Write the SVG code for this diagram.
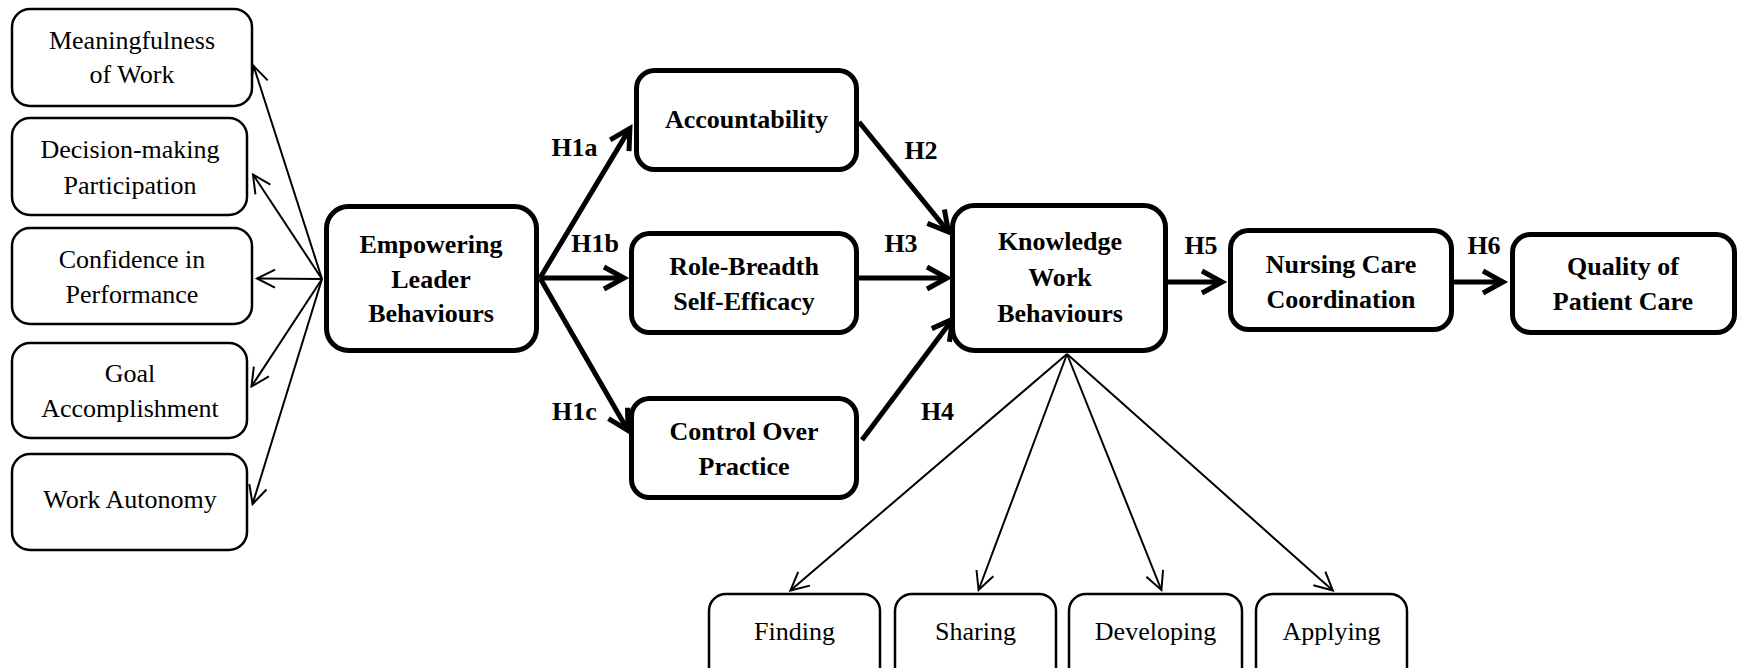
<svg xmlns="http://www.w3.org/2000/svg" width="1738" height="668" viewBox="0 0 1738 668">
<style>
.tn{fill:#fff;stroke:#000;stroke-width:2.5}
.tk{fill:#fff;stroke:#000;stroke-width:5}
.r{font-family:"Liberation Serif","Times New Roman",serif;font-size:26px;fill:#000;text-anchor:middle}
.b{font-family:"Liberation Serif","Times New Roman",serif;font-size:26px;font-weight:bold;fill:#000;text-anchor:middle}
.lt{fill:none;stroke:#000;stroke-width:2;marker-end:url(#at)}
.lk{fill:none;stroke:#000;stroke-width:5;marker-end:url(#ak)}
</style>
<defs>
<marker id="at" markerUnits="userSpaceOnUse" viewBox="-22 -12 26 24" refX="0" refY="0" markerWidth="26" markerHeight="24" orient="auto">
<path d="M-18,-9 L0,0 L-18,9" fill="none" stroke="#000" stroke-width="2"/>
</marker>
<marker id="ak" markerUnits="userSpaceOnUse" viewBox="-26 -16 34 32" refX="0" refY="0" markerWidth="34" markerHeight="32" orient="auto">
<path d="M-20,-11 L0,0 L-20,11" fill="none" stroke="#000" stroke-width="5"/>
</marker>
</defs>
<rect width="1738" height="668" fill="#fff"/>

<g id="connectors">
<line class="lt" x1="322" y1="279" x2="253.6" y2="66"/>
<line class="lt" x1="322" y1="279" x2="253" y2="174.5"/>
<line class="lt" x1="322" y1="279" x2="257" y2="278.5"/>
<line class="lt" x1="322" y1="279" x2="251.5" y2="386.5"/>
<line class="lt" x1="322" y1="279" x2="252.6" y2="504"/>
<line class="lk" x1="540" y1="278" x2="629.9" y2="128.4"/>
<line class="lk" x1="540" y1="278" x2="624" y2="278"/>
<line class="lk" x1="540" y1="278" x2="628" y2="430.5"/>
<line class="lk" x1="859" y1="122" x2="948.5" y2="231.9"/>
<line class="lk" x1="859" y1="278" x2="947" y2="278"/>
<line class="lk" x1="862" y1="440" x2="952.6" y2="319.2"/>
<line class="lk" x1="1168" y1="282" x2="1222" y2="282"/>
<line class="lk" x1="1454" y1="282" x2="1503" y2="282"/>
<line class="lt" x1="1067" y1="354" x2="790.4" y2="590.5"/>
<line class="lt" x1="1067" y1="354" x2="978.6" y2="590"/>
<line class="lt" x1="1067" y1="354" x2="1161.4" y2="590"/>
<line class="lt" x1="1067" y1="354" x2="1332.8" y2="590.4"/>
<text class="b" x="574.5" y="156">H1a</text>
<text class="b" x="595" y="252">H1b</text>
<text class="b" x="574.5" y="420">H1c</text>
<text class="b" x="921" y="159">H2</text>
<text class="b" x="901" y="252">H3</text>
<text class="b" x="937.5" y="420">H4</text>
<text class="b" x="1201" y="254">H5</text>
<text class="b" x="1484" y="254">H6</text>
</g>

<g id="meaningfulness">
<rect class="tn" x="12" y="9" width="240" height="97" rx="18"/>
<text class="r" x="132" y="49">Meaningfulness</text>
<text class="r" x="132" y="83">of Work</text>
</g>
<g id="decision">
<rect class="tn" x="12" y="118" width="235" height="97" rx="18"/>
<text class="r" x="130" y="158">Decision-making</text>
<text class="r" x="130" y="194">Participation</text>
</g>
<g id="confidence">
<rect class="tn" x="12" y="228" width="240" height="96" rx="18"/>
<text class="r" x="132" y="268">Confidence in</text>
<text class="r" x="132" y="303">Performance</text>
</g>
<g id="goal">
<rect class="tn" x="12" y="343" width="235" height="95" rx="18"/>
<text class="r" x="130" y="382">Goal</text>
<text class="r" x="130" y="417">Accomplishment</text>
</g>
<g id="autonomy">
<rect class="tn" x="12" y="454" width="235" height="96" rx="18"/>
<text class="r" x="130" y="508">Work Autonomy</text>
</g>

<g id="empowering">
<rect class="tk" x="326.5" y="206.5" width="210" height="144" rx="22"/>
<text class="b" x="431" y="253">Empowering</text>
<text class="b" x="431" y="288">Leader</text>
<text class="b" x="431" y="322">Behaviours</text>
</g>
<g id="accountability">
<rect class="tk" x="636.5" y="70.5" width="220" height="99" rx="18"/>
<text class="b" x="746.5" y="128">Accountability</text>
</g>
<g id="rolebreadth">
<rect class="tk" x="631.5" y="233.5" width="225" height="99" rx="18"/>
<text class="b" x="744" y="275">Role-Breadth</text>
<text class="b" x="744" y="310">Self-Efficacy</text>
</g>
<g id="control">
<rect class="tk" x="631.5" y="398.5" width="225" height="99" rx="18"/>
<text class="b" x="744" y="440">Control Over</text>
<text class="b" x="744" y="475">Practice</text>
</g>
<g id="knowledge">
<rect class="tk" x="952.5" y="205.5" width="213" height="145" rx="22"/>
<text class="b" x="1060" y="250">Knowledge</text>
<text class="b" x="1060" y="286">Work</text>
<text class="b" x="1060" y="322">Behaviours</text>
</g>
<g id="nursing">
<rect class="tk" x="1230.5" y="230.5" width="221" height="99" rx="18"/>
<text class="b" x="1341" y="273">Nursing Care</text>
<text class="b" x="1341" y="308">Coordination</text>
</g>
<g id="quality">
<rect class="tk" x="1512.5" y="234.5" width="222" height="98" rx="18"/>
<text class="b" x="1623" y="275">Quality of</text>
<text class="b" x="1623" y="310">Patient Care</text>
</g>

<g id="finding">
<rect class="tn" x="709" y="594" width="171" height="110" rx="17"/>
<text class="r" x="794.5" y="640">Finding</text>
</g>
<g id="sharing">
<rect class="tn" x="895" y="594" width="161" height="110" rx="17"/>
<text class="r" x="975.5" y="640">Sharing</text>
</g>
<g id="developing">
<rect class="tn" x="1069" y="594" width="173" height="110" rx="17"/>
<text class="r" x="1155.5" y="640">Developing</text>
</g>
<g id="applying">
<rect class="tn" x="1256" y="594" width="151" height="110" rx="17"/>
<text class="r" x="1331.5" y="640">Applying</text>
</g>
</svg>
